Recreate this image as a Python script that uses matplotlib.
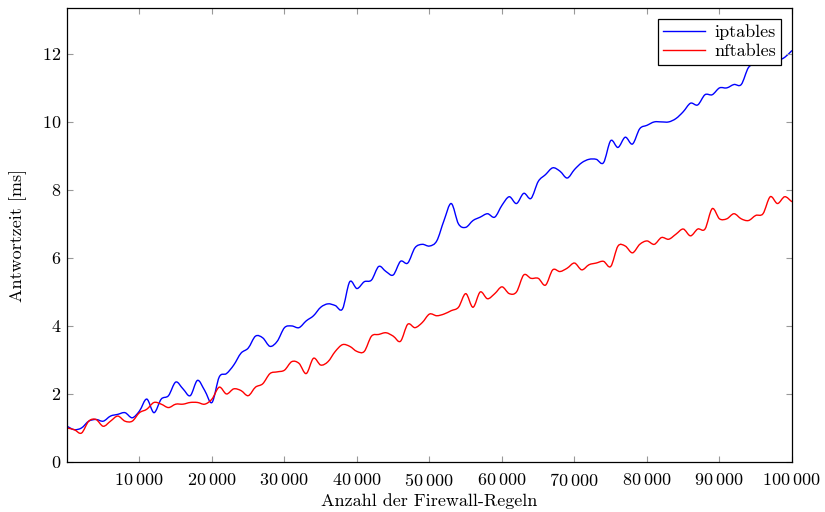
import matplotlib

matplotlib.use("Agg")

import matplotlib.pyplot as plt
import numpy as np
from matplotlib.patches import PathPatch
from matplotlib.path import Path
from matplotlib.ticker import FixedLocator, FuncFormatter

plt.rcParams["font.family"] = "cmr10"
plt.rcParams["mathtext.fontset"] = "cm"
plt.rcParams["axes.formatter.use_mathtext"] = True

FONT_SIZE = 13

# Number of firewall rules, in thousands.
RULES_K = list(range(0, 101))

IPTABLES_MS = [
    1.05, 0.95, 1.0, 1.2, 1.25, 1.2, 1.35, 1.4, 1.45, 1.3,
    1.5, 1.85, 1.45, 1.85, 1.95, 2.35, 2.15, 1.95, 2.4, 2.1,
    1.75, 2.5, 2.6, 2.85, 3.2, 3.35, 3.7, 3.65, 3.4, 3.55,
    3.95, 4.0, 3.95, 4.15, 4.3, 4.55, 4.65, 4.6, 4.5, 5.3,
    5.1, 5.3, 5.35, 5.75, 5.6, 5.5, 5.9, 5.85, 6.3, 6.4,
    6.35, 6.5, 7.1, 7.6, 7.0, 6.9, 7.1, 7.2, 7.3, 7.2,
    7.55, 7.8, 7.6, 7.9, 7.75, 8.25, 8.45, 8.65, 8.55, 8.35,
    8.6, 8.8, 8.9, 8.9, 8.8, 9.45, 9.25, 9.55, 9.35, 9.8,
    9.9, 10.0, 10.0, 10.0, 10.1, 10.3, 10.55, 10.5, 10.8, 10.8,
    11.0, 11.0, 11.1, 11.1, 11.6, 11.7, 11.7, 11.75, 11.8, 11.9,
    12.1,
]

NFTABLES_MS = [
    1.0, 0.95, 0.85, 1.2, 1.25, 1.05, 1.2, 1.35, 1.2, 1.2,
    1.45, 1.55, 1.75, 1.7, 1.6, 1.7, 1.7, 1.75, 1.75, 1.7,
    1.85, 2.2, 2.0, 2.15, 2.1, 1.95, 2.2, 2.3, 2.6, 2.65,
    2.7, 2.95, 2.9, 2.6, 3.05, 2.85, 2.95, 3.25, 3.45, 3.4,
    3.25, 3.25, 3.7, 3.75, 3.8, 3.7, 3.55, 4.05, 3.95, 4.1,
    4.35, 4.3, 4.35, 4.45, 4.55, 4.95, 4.55, 5.0, 4.8, 4.95,
    5.15, 4.95, 5.0, 5.5, 5.4, 5.4, 5.2, 5.65, 5.6, 5.7,
    5.85, 5.65, 5.8, 5.85, 5.9, 5.75, 6.35, 6.35, 6.15, 6.4,
    6.5, 6.4, 6.6, 6.55, 6.7, 6.85, 6.65, 6.85, 6.85, 7.45,
    7.15, 7.15, 7.3, 7.15, 7.1, 7.25, 7.3, 7.8, 7.6, 7.8,
    7.65,
]

X_TICKS = [10000 * i for i in range(1, 11)]
Y_TICKS = [0, 2, 4, 6, 8, 10, 12]


def smooth_path(x: np.ndarray, y: np.ndarray) -> Path:
    # Cubic Bezier through every point, like TikZ "smooth".
    pts = np.column_stack([x, y])
    tangents = np.zeros_like(pts)
    tangents[1:-1] = (pts[2:] - pts[:-2]) / 6
    tangents[0] = (pts[1] - pts[0]) / 3
    tangents[-1] = (pts[-1] - pts[-2]) / 3
    verts = [pts[0]]
    codes = [Path.MOVETO]
    for i in range(len(pts) - 1):
        verts += [pts[i] + tangents[i], pts[i + 1] - tangents[i + 1], pts[i + 1]]
        codes += [Path.CURVE4] * 3
    return Path(verts, codes)


def thousands(value: float, _pos: int) -> str:
    value = int(round(value))
    if value >= 1000:
        return r"$%d\:%03d$" % (value // 1000, value % 1000)
    return r"$%d$" % value


def main() -> None:
    fig = plt.figure(figsize=(8.25, 5.12), dpi=100)
    ax = fig.add_axes([0.0812, 0.0977, 0.8788, 0.8867])

    x = np.array(RULES_K, dtype=float) * 1000
    for values, color, label in [
        (IPTABLES_MS, "#0000ff", "iptables"),
        (NFTABLES_MS, "#ff0000", "nftables"),
    ]:
        patch = PathPatch(
            smooth_path(x, np.array(values)), facecolor="none", edgecolor=color, linewidth=1.0
        )
        ax.add_patch(patch)
        # Empty line only for the legend entry.
        ax.plot([], [], color=color, linewidth=1.0, label=label)

    ax.set_xlim(0, 100000)
    ax.set_ylim(0, 13.35)

    ax.xaxis.set_major_locator(FixedLocator(X_TICKS))
    ax.yaxis.set_major_locator(FixedLocator(Y_TICKS))
    ax.xaxis.set_major_formatter(FuncFormatter(thousands))
    ax.yaxis.set_major_formatter(FuncFormatter(thousands))
    ax.tick_params(
        direction="in", length=4, width=0.8, color="#999999",
        top=True, right=True, labelsize=FONT_SIZE, pad=7,
    )
    ax.tick_params(axis="y", pad=4)
    for spine in ax.spines.values():
        spine.set_linewidth(0.9)

    ax.set_xlabel("Anzahl der Firewall-Regeln", fontsize=FONT_SIZE, labelpad=3)
    ax.set_ylabel("Antwortzeit [ms]", fontsize=FONT_SIZE, labelpad=11)

    legend = ax.legend(
        loc="upper right", fontsize=FONT_SIZE, fancybox=False, framealpha=1,
        edgecolor="black", handlelength=2.3, borderaxespad=0.6,
        borderpad=0.3, labelspacing=0.2, handletextpad=0.5,
    )
    legend.get_frame().set_linewidth(0.9)

    fig.savefig("out.png", dpi=100)


if __name__ == "__main__":
    main()
